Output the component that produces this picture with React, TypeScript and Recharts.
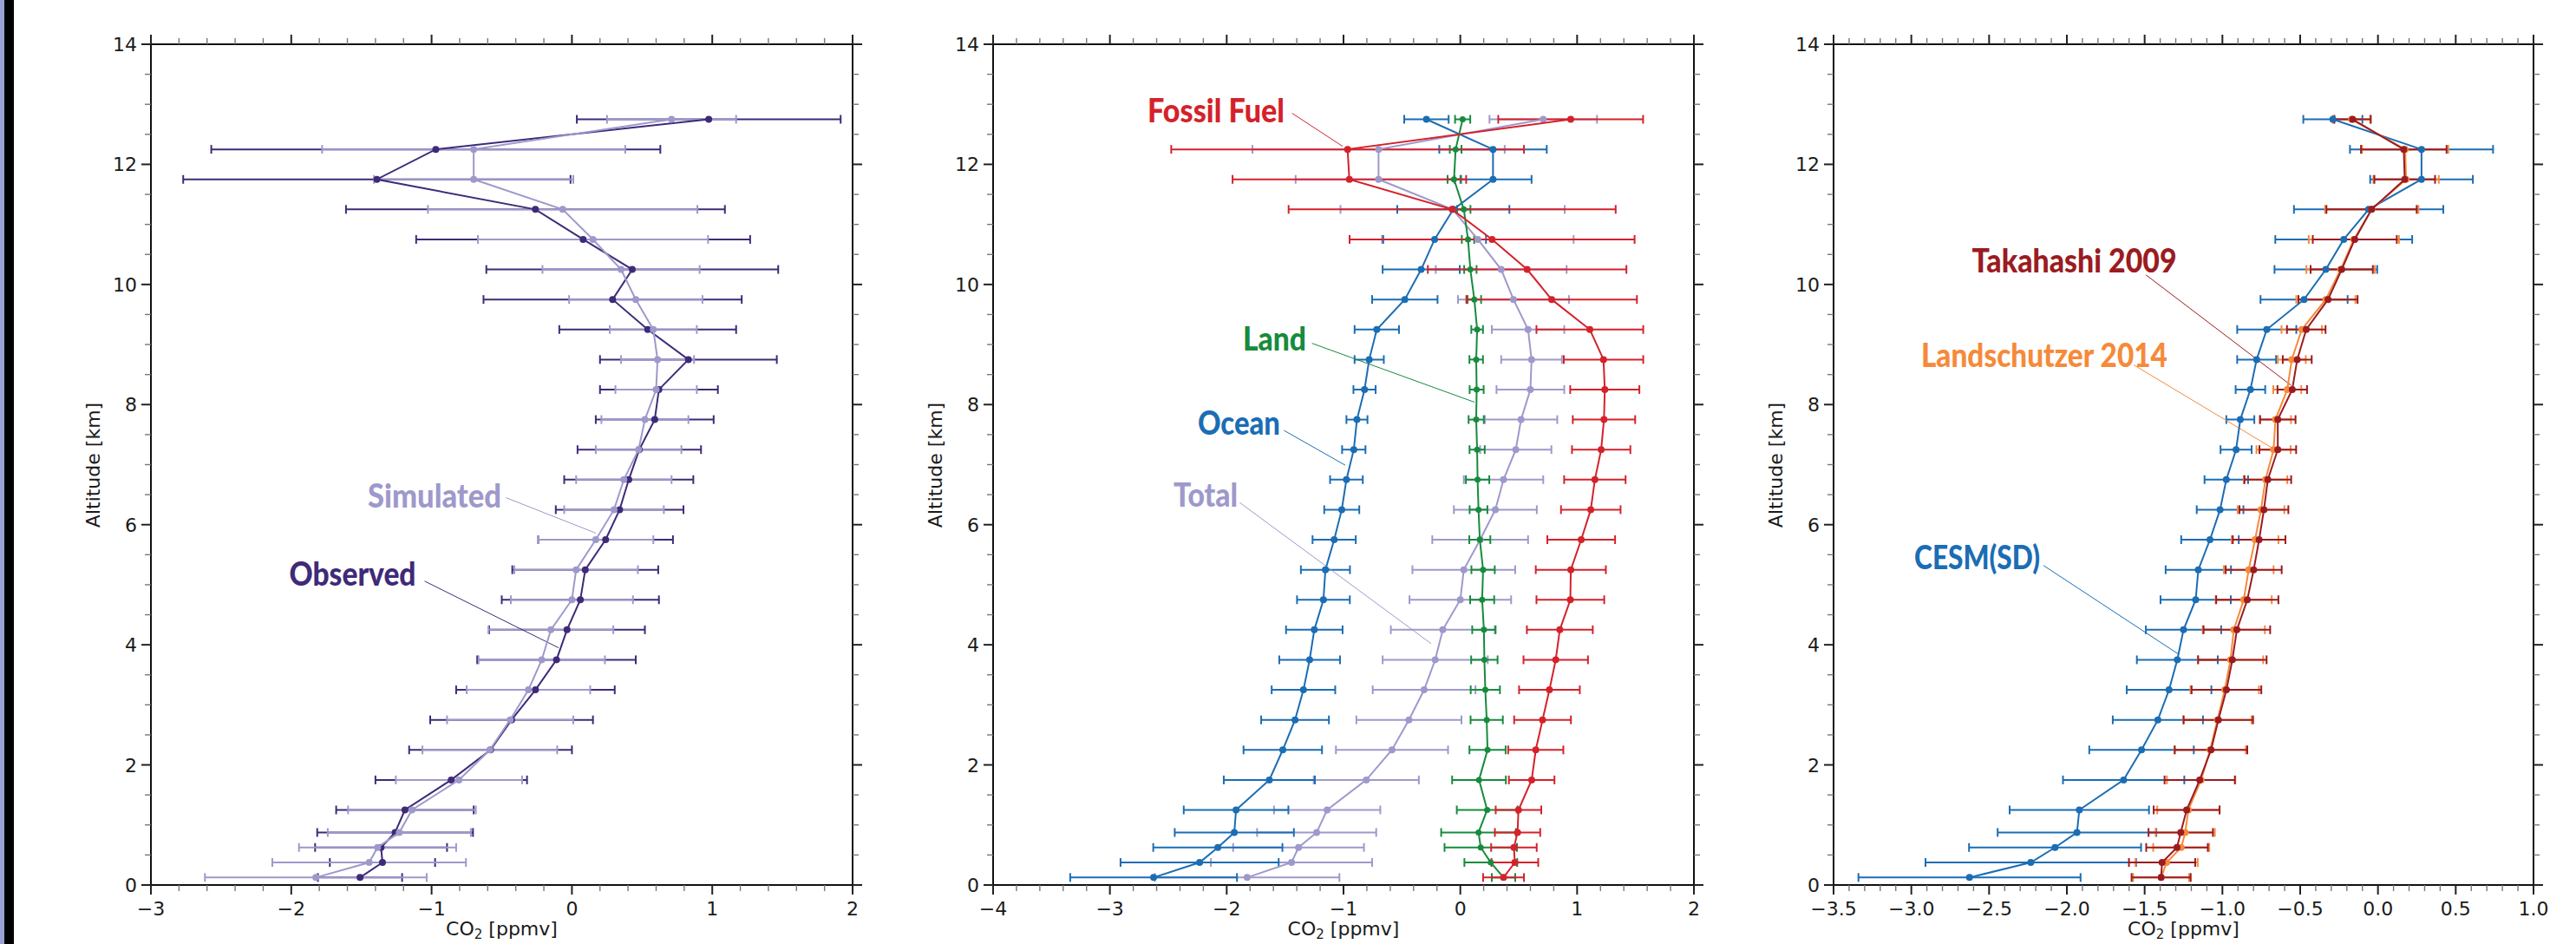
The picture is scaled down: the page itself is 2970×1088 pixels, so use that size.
import React from 'react'
import { ScatterChart, Scatter, XAxis, YAxis, ErrorBar, ReferenceLine, ReferenceDot } from 'recharts'

// altitude levels (km), top to bottom
const ALT = [12.75, 12.25, 11.75, 11.25, 10.75, 10.25, 9.75, 9.25, 8.75, 8.25, 7.75, 7.25, 6.75, 6.25,
  5.75, 5.25, 4.75, 4.25, 3.75, 3.25, 2.75, 2.25, 1.75, 1.25, 0.875, 0.625, 0.375, 0.125]

// panel 1
const OBS = [0.975, -0.97, -1.39, -0.26, 0.08, 0.43, 0.29, 0.54, 0.83, 0.62, 0.59, 0.48, 0.405, 0.34,
  0.24, 0.095, 0.06, -0.035, -0.11, -0.26, -0.43, -0.58, -0.86, -1.19, -1.26, -1.36, -1.35, -1.51]
const OBS_ERR = [0.94, 1.6, 1.38, 1.35, 1.19, 1.04, 0.92, 0.63, 0.63, 0.42, 0.42, 0.44, 0.46, 0.455,
  0.48, 0.52, 0.56, 0.555, 0.565, 0.565, 0.58, 0.58, 0.54, 0.49, 0.555, 0.47, 0.375, 0.3]
const SIM = [0.71, -0.7, -0.7, -0.066, 0.15, 0.35, 0.455, 0.58, 0.61, 0.6, 0.52, 0.475, 0.37, 0.3,
  0.17, 0.03, 0.0, -0.15, -0.215, -0.31, -0.44, -0.585, -0.805, -1.14, -1.23, -1.385, -1.445, -1.825]
const SIM_ERR = [0.46, 1.08, 0.71, 0.96, 0.82, 0.56, 0.475, 0.31, 0.26, 0.29, 0.31, 0.305, 0.34, 0.355,
  0.41, 0.44, 0.435, 0.445, 0.45, 0.44, 0.45, 0.48, 0.45, 0.455, 0.51, 0.56, 0.69, 0.79]

// panel 2 (ocean is also CESM(SD) in panel 3)
const OCEAN = [-0.29, 0.28, 0.28, -0.06, -0.22, -0.335, -0.475, -0.715, -0.78, -0.82, -0.885, -0.912, -0.975, -1.015,
  -1.08, -1.155, -1.172, -1.25, -1.29, -1.343, -1.415, -1.52, -1.635, -1.92, -1.935, -2.076, -2.232, -2.626]
const OCEAN_ERR = [0.19, 0.46, 0.33, 0.48, 0.44, 0.33, 0.28, 0.19, 0.125, 0.095, 0.09, 0.1, 0.14, 0.15,
  0.185, 0.21, 0.226, 0.242, 0.26, 0.272, 0.29, 0.336, 0.39, 0.448, 0.51, 0.553, 0.677, 0.714]
const LAND = [0.02, -0.04, -0.054, 0.03, 0.066, 0.086, 0.12, 0.144, 0.136, 0.14, 0.136, 0.144, 0.148, 0.156,
  0.167, 0.195, 0.187, 0.202, 0.206, 0.214, 0.226, 0.233, 0.16, 0.23, 0.156, 0.175, 0.261, 0.37]
const LAND_ERR = [0.065, 0.05, 0.055, 0.057, 0.053, 0.053, 0.058, 0.05, 0.058, 0.06, 0.065, 0.065, 0.1, 0.076,
  0.09, 0.1, 0.103, 0.1, 0.113, 0.125, 0.138, 0.155, 0.23, 0.26, 0.32, 0.31, 0.226, 0.1]
const FOSSIL = [0.945, -0.965, -0.95, -0.07, 0.272, 0.572, 0.782, 1.109, 1.226, 1.237, 1.23, 1.206, 1.152, 1.117,
  1.035, 0.946, 0.942, 0.852, 0.817, 0.763, 0.704, 0.646, 0.611, 0.498, 0.49, 0.459, 0.467, 0.37]
const FOSSIL_ERR = [0.62, 1.51, 1.0, 1.4, 1.22, 0.85, 0.73, 0.457, 0.34, 0.296, 0.267, 0.25, 0.263, 0.255,
  0.29, 0.3, 0.29, 0.282, 0.276, 0.26, 0.243, 0.236, 0.195, 0.195, 0.194, 0.195, 0.2, 0.175]

// panel 3
const TAKA = [-0.163, 0.166, 0.172, -0.041, -0.149, -0.233, -0.321, -0.461, -0.519, -0.551, -0.644, -0.644, -0.708, -0.733,
  -0.764, -0.799, -0.84, -0.907, -0.936, -0.974, -1.026, -1.073, -1.146, -1.23, -1.268, -1.292, -1.388, -1.394]
const TAKA_ERR = [0.117, 0.275, 0.195, 0.29, 0.27, 0.2, 0.19, 0.124, 0.093, 0.095, 0.114, 0.118, 0.15, 0.157,
  0.169, 0.18, 0.2, 0.214, 0.22, 0.224, 0.223, 0.233, 0.226, 0.212, 0.207, 0.198, 0.213, 0.19]
const LANDS = [-0.17, 0.175, 0.181, -0.04, -0.155, -0.24, -0.335, -0.49, -0.554, -0.583, -0.659, -0.671, -0.723, -0.752,
  -0.79, -0.831, -0.863, -0.927, -0.948, -0.985, -1.032, -1.079, -1.137, -1.219, -1.239, -1.265, -1.359, -1.394]
const LANDS_ERR = [0.12, 0.277, 0.21, 0.3, 0.29, 0.22, 0.19, 0.13, 0.09, 0.09, 0.1, 0.11, 0.14, 0.15,
  0.15, 0.16, 0.18, 0.2, 0.21, 0.22, 0.22, 0.23, 0.22, 0.2, 0.19, 0.18, 0.2, 0.18]

const TICK_FONT = '"DejaVu Sans", Verdana, sans-serif'
const NOTE_FONT = 'Lato, Roboto, sans-serif'

const C = {
  obs: '#3f2a78',
  sim: '#9e99cb',
  ocean: '#1b6db4',
  land: '#178b3d',
  fossil: '#d4222b',
  taka: '#9b1b21',
  lands: '#f58a3a',
}

function range(a: number, b: number, step: number) {
  const out: number[] = []
  const n = Math.round((b - a) / step)
  for (let i = 0; i <= n; i++) out.push(Math.round((a + i * step) * 1000) / 1000)
  return out
}

const Y_TICKS = range(0, 14, 0.5)
const yMajor = (v: number) => Math.abs(v / 2 - Math.round(v / 2)) < 1e-6
const minus = (s: string) => s.replace('-', '\u2212')

function pts(xs: number[], errs: number[]) {
  return ALT.map((y, i) => ({ x: xs[i], y, err: errs[i] }))
}

type Side = 'bottom' | 'top' | 'left' | 'right'

function makeTick(side: Side, isMajor: (v: number) => boolean, fmt?: (v: number) => string) {
  return (props: any) => {
    const { x, y, payload } = props
    const v = payload.value
    const major = isMajor(v)
    const len = major ? 11 : 7
    const stroke = major ? '#222' : '#777'
    const sw = major ? 2 : 1.4
    let ln
    if (side === 'bottom') ln = <line x1={x} x2={x} y1={y} y2={y + len} stroke={stroke} strokeWidth={sw} />
    else if (side === 'top') ln = <line x1={x} x2={x} y1={y} y2={y - len} stroke={stroke} strokeWidth={sw} />
    else if (side === 'left') ln = <line x1={x} x2={x - len} y1={y} y2={y} stroke={stroke} strokeWidth={sw} />
    else ln = <line x1={x} x2={x + len} y1={y} y2={y} stroke={stroke} strokeWidth={sw} />
    let label = null
    if (fmt && major) {
      if (side === 'bottom') {
        label = <text x={x} y={y + 35} textAnchor="middle" fontFamily={TICK_FONT} fontSize={22} fill="#1a1a1a">{fmt(v)}</text>
      } else if (side === 'left') {
        label = <text x={x - 16} y={y + 8} textAnchor="end" fontFamily={TICK_FONT} fontSize={22} fill="#1a1a1a">{fmt(v)}</text>
      }
    }
    return <g>{ln}{label}</g>
  }
}

type Series = { key: string; data: { x: number; y: number; err: number }[]; color: string; r?: number }
type Note = { text: string; x: number; y: number; len: number; color: string; from: [number, number]; to: [number, number] }

const axisLine = { stroke: '#111', strokeWidth: 2 }

function Panel(props: {
  left: number
  width: number
  xDomain: [number, number]
  xTicks: number[]
  xMajor: (v: number) => boolean
  xFmt: (v: number) => string
  series: Series[]
  notes: Note[]
}) {
  const { left, width, xDomain, xTicks, xMajor, xFmt, series, notes } = props
  return (
    <div style={{ position: 'absolute', left: left - 100, top: 0 }}>
      <ScatterChart width={width + 200} height={1088} margin={{ top: 21, right: 40, bottom: 18, left: 40 }}>
        <XAxis xAxisId="b" orientation="bottom" type="number" dataKey="x" domain={xDomain} ticks={xTicks}
          interval={0} allowDataOverflow height={50} tickSize={0} tickMargin={0} tickLine={false}
          axisLine={axisLine} tick={makeTick('bottom', xMajor, xFmt)} />
        <XAxis xAxisId="t" orientation="top" type="number" dataKey="x" domain={xDomain} ticks={xTicks}
          interval={0} allowDataOverflow height={30} tickSize={0} tickMargin={0} tickLine={false}
          axisLine={axisLine} tick={makeTick('top', xMajor)} />
        <YAxis yAxisId="l" orientation="left" type="number" dataKey="y" domain={[0, 14]} ticks={Y_TICKS}
          interval={0} allowDataOverflow width={60} tickSize={0} tickMargin={0} tickLine={false}
          axisLine={axisLine} tick={makeTick('left', yMajor, (v) => String(v))} />
        <YAxis yAxisId="r" orientation="right" type="number" dataKey="y" domain={[0, 14]} ticks={Y_TICKS}
          interval={0} allowDataOverflow width={60} tickSize={0} tickMargin={0} tickLine={false}
          axisLine={axisLine} tick={makeTick('right', yMajor)} />
        {series.map((s) => (
          <Scatter key={s.key} xAxisId="b" yAxisId="l" data={s.data} isAnimationActive={false}
            line={{ stroke: s.color, strokeWidth: 2 }} lineType="joint"
            shape={(p: any) => <circle cx={p.cx} cy={p.cy} r={s.r ?? 4} fill={s.color} />}>
            <ErrorBar dataKey="err" direction="x" width={5} stroke={s.color} strokeWidth={2} isAnimationActive={false} />
          </Scatter>
        ))}
        {notes.map((n) => (
          <ReferenceLine key={n.text + '-l'} xAxisId="b" yAxisId="l" ifOverflow="visible"
            segment={[{ x: n.from[0], y: n.from[1] }, { x: n.to[0], y: n.to[1] }]}
            stroke={n.color} strokeWidth={1} />
        ))}
        {notes.map((n) => (
          <ReferenceDot key={n.text} xAxisId="b" yAxisId="l" x={n.x} y={n.y} r={0} ifOverflow="visible"
            shape={(p: any) => (
              <text x={p.cx} y={p.cy} fontFamily={NOTE_FONT} fontWeight={900} fontSize={37} fill={n.color}
                textLength={n.len} lengthAdjust="spacingAndGlyphs">{n.text}</text>
            )} />
        ))}
      </ScatterChart>
    </div>
  )
}

const P1_TICKS = range(-3, 2, 0.2)
const P2_TICKS = range(-4, 2, 0.2)
const P3_TICKS = range(-3.5, 1, 0.1)
const intMajor = (v: number) => Math.abs(v - Math.round(v)) < 1e-6
const halfMajor = (v: number) => Math.abs(v * 2 - Math.round(v * 2)) < 1e-6

function AxisTitles({ left, right }: { left: number; right: number }) {
  const base: React.CSSProperties = {
    position: 'absolute', fontFamily: TICK_FONT, fontSize: 22, color: '#1a1a1a', whiteSpace: 'nowrap', lineHeight: 1,
  }
  return (
    <>
      <div style={{ ...base, left: left - 66, top: 536, transform: 'translate(-50%, -50%) rotate(-90deg)' }}>
        Altitude [km]
      </div>
      <div style={{ ...base, left: (left + right) / 2, top: 1060, transform: 'translateX(-50%)' }}>
        CO<span style={{ fontSize: 15, position: 'relative', top: 4 }}>2</span> [ppmv]
      </div>
    </>
  )
}

export default function App() {
  const obs = pts(OBS, OBS_ERR)
  const sim = pts(SIM, SIM_ERR)
  const ocean = pts(OCEAN, OCEAN_ERR)
  const land = pts(LAND, LAND_ERR)
  const fossil = pts(FOSSIL, FOSSIL_ERR)
  const taka = pts(TAKA, TAKA_ERR)
  const lands = pts(LANDS, LANDS_ERR)

  return (
    <div style={{ position: 'absolute', left: 0, top: 0, width: 2970, height: 1088, overflow: 'hidden', background: '#fff' }}>
      <div style={{ position: 'absolute', left: 0, top: 0, width: 5, height: 1088, background: '#9aa2d2' }} />
      <div style={{ position: 'absolute', left: 5, top: 0, width: 11, height: 1088, background: '#000' }} />

      <Panel left={174} width={809} xDomain={[-3, 2]} xTicks={P1_TICKS} xMajor={intMajor}
        xFmt={(v) => minus(String(v))}
        series={[
          { key: 'obs', data: obs, color: C.obs },
          { key: 'sim', data: sim, color: C.sim },
        ]}
        notes={[
          { text: 'Simulated', x: -1.455, y: 6.29, len: 154, color: C.sim, from: [-0.47, 6.45], to: [0.17, 5.86] },
          { text: 'Observed', x: -2.014, y: 4.98, len: 146, color: C.obs, from: [-1.05, 5.06], to: [-0.095, 3.95] },
        ]} />
      <AxisTitles left={174} right={983} />

      <Panel left={1145} width={808} xDomain={[-4, 2]} xTicks={P2_TICKS} xMajor={intMajor}
        xFmt={(v) => minus(String(v))}
        series={[
          { key: 'total', data: sim, color: C.sim },
          { key: 'ocean', data: ocean, color: C.ocean },
          { key: 'land', data: land, color: C.land, r: 3.5 },
          { key: 'fossil', data: fossil, color: C.fossil },
        ]}
        notes={[
          { text: 'Fossil Fuel', x: -2.678, y: 12.7, len: 158, color: C.fossil, from: [-1.44, 12.85], to: [-1.007, 12.3] },
          { text: 'Land', x: -1.861, y: 8.9, len: 73, color: C.land, from: [-1.27, 9.02], to: [0.121, 8.04] },
          { text: 'Ocean', x: -2.248, y: 7.5, len: 95, color: C.ocean, from: [-1.51, 7.57], to: [-0.985, 6.99] },
          { text: 'Total', x: -2.455, y: 6.3, len: 74, color: C.sim, from: [-1.89, 6.37], to: [-0.25, 4.02] },
        ]} />
      <AxisTitles left={1145} right={1953} />

      <Panel left={2114} width={807} xDomain={[-3.5, 1]} xTicks={P3_TICKS} xMajor={halfMajor}
        xFmt={(v) => minus(v.toFixed(1))}
        series={[
          { key: 'cesm', data: ocean, color: C.ocean },
          { key: 'lands', data: lands, color: C.lands },
          { key: 'taka', data: taka, color: C.taka },
        ]}
        notes={[
          { text: 'Takahashi 2009', x: -2.61, y: 10.2, len: 236, color: C.taka, from: [-1.492, 10.16], to: [-0.558, 8.32] },
          { text: 'Landschutzer 2014', x: -2.937, y: 8.63, len: 284, color: C.lands, from: [-1.57, 8.66], to: [-0.656, 7.24] },
          { text: 'CESM(SD)', x: -2.981, y: 5.26, len: 145, color: C.ocean, from: [-2.15, 5.32], to: [-1.28, 3.84] },
        ]} />
      <AxisTitles left={2114} right={2921} />
    </div>
  )
}
